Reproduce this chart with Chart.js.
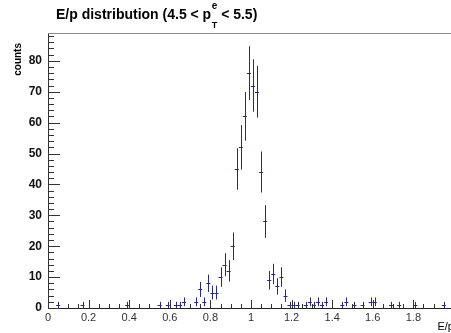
<!DOCTYPE html>
<html>
<head>
<meta charset="utf-8">
<script src="https://cdn.jsdelivr.net/npm/chart.js@4/dist/chart.umd.min.js"></script>
<style>
  html, body { margin: 0; padding: 0; background: #fff; overflow: hidden; }
  #wrap { width: 451px; height: 333px; overflow: hidden; }
</style>
</head>
<body>
<div id="wrap"><canvas id="epChart" width="460" height="333"></canvas></div>
<script>
// E/p histogram, bin width 0.02, only filled bins listed

const binCenters = [
  0.05, 0.17, 0.39, 0.55, 0.59, 0.63, 0.65, 0.67, 0.73, 0.75,
  0.77, 0.79, 0.81, 0.83, 0.85, 0.87, 0.89, 0.91, 0.93, 0.95,
  0.97, 0.99, 1.01, 1.03, 1.05, 1.07, 1.09, 1.11, 1.13, 1.15,
  1.17, 1.19, 1.21, 1.23, 1.27, 1.29, 1.31, 1.33, 1.35, 1.37,
  1.45, 1.47, 1.51, 1.55, 1.59, 1.61, 1.69, 1.73, 1.81, 1.95
];
const counts = [
  1, 1, 1, 1, 1, 1, 1, 2, 2, 6,
  2, 8, 5, 5, 10, 14, 12, 20, 45, 52,
  62, 76, 72, 70, 44, 28, 9, 11, 7, 10,
  4, 1, 1, 1, 1, 2, 1, 2, 1, 2,
  1, 2, 1, 1, 2, 2, 1, 1, 1, 1
];
const xTickValues = [0, 0.2, 0.4, 0.6, 0.8, 1, 1.2, 1.4, 1.6, 1.8, 2];
const yTickValues = [0, 10, 20, 30, 40, 50, 60, 70, 80];

const binHalfWidth = 0.01;
const markColor = '#2a2a7c';
const fontFamily = "'Liberation Sans', Arial, Helvetica, sans-serif";

const rootStyle = {
  id: 'rootStyle',
  afterDraw(chart) {
    const { ctx, chartArea: area, scales: { x, y } } = chart;
    ctx.save();

    // top frame line
    ctx.strokeStyle = '#8a8a8a';
    ctx.lineWidth = 1;
    ctx.beginPath();
    ctx.moveTo(area.left, Math.round(area.top) + 0.5);
    ctx.lineTo(area.right, Math.round(area.top) + 0.5);
    ctx.stroke();

    // inward ticks
    ctx.strokeStyle = '#333';
    ctx.beginPath();
    for (let i = 0; i <= 40; i++) {
      const v = i * 0.05;
      const px = Math.round(x.getPixelForValue(v)) + 0.5;
      const len = i % 4 === 0 ? 8 : 4;
      ctx.moveTo(px, area.bottom);
      ctx.lineTo(px, area.bottom - len);
    }
    for (let v = 0; v <= y.max; v += 2) {
      const py = Math.round(y.getPixelForValue(v)) + 0.5;
      const len = v % 10 === 0 ? 12 : 6;
      ctx.moveTo(area.left, py);
      ctx.lineTo(area.left + len, py);
    }
    ctx.stroke();

    // error bars
    const meta = chart.getDatasetMeta(0);
    ctx.strokeStyle = markColor;
    ctx.lineWidth = 1;
    ctx.beginPath();
    meta.data.forEach((pt, i) => {
      const n = counts[i];
      const err = Math.sqrt(n);
      const cx = Math.round(pt.x) + 0.5;
      const cy = Math.round(pt.y) + 0.5;
      const top = y.getPixelForValue(n + err);
      const bot = y.getPixelForValue(Math.max(0, n - err));
      ctx.moveTo(cx, top);
      ctx.lineTo(cx, bot);
      ctx.moveTo(x.getPixelForValue(binCenters[i] - binHalfWidth), cy);
      ctx.lineTo(x.getPixelForValue(binCenters[i] + binHalfWidth), cy);
    });
    ctx.stroke();

    // title with p_T^e
    ctx.fillStyle = '#000';
    ctx.textBaseline = 'alphabetic';
    ctx.textAlign = 'left';
    ctx.font = 'bold 14px ' + fontFamily;
    const part1 = 'E/p distribution (4.5 < p';
    let tx = 56;
    ctx.fillText(part1, tx, 19);
    tx += ctx.measureText(part1).width + 0.5;
    ctx.font = 'bold 10px ' + fontFamily;
    ctx.fillText('e', tx, 8.5);
    const wE = ctx.measureText('e').width;
    ctx.font = 'bold 9px ' + fontFamily;
    ctx.fillText('T', tx, 28);
    const wT = ctx.measureText('T').width;
    tx += Math.max(wE, wT);
    ctx.font = 'bold 14px ' + fontFamily;
    ctx.fillText(' < 5.5)', tx, 19);

    // y title
    ctx.save();
    ctx.translate(21, area.top + 10);
    ctx.rotate(-Math.PI / 2);
    ctx.font = 'bold 10px ' + fontFamily;
    ctx.textAlign = 'right';
    ctx.fillText('counts', 0, 0);
    ctx.restore();

    // x title
    ctx.font = '11px ' + fontFamily;
    ctx.textAlign = 'right';
    ctx.fillText('E/p', area.right, 330);

    ctx.restore();
  }
};

new Chart(document.getElementById('epChart'), {
  type: 'scatter',
  data: {
    datasets: [{
      label: 'E/p',
      data: binCenters.map((v, i) => ({ x: v, y: counts[i] })),
      pointRadius: 0,
      pointHoverRadius: 0,
      showLine: false
    }]
  },
  options: {
    responsive: false,
    animation: false,
    devicePixelRatio: 1,
    layout: { padding: { top: 33, right: 4, left: 0, bottom: 0 } },
    plugins: { legend: { display: false }, tooltip: { enabled: false } },
    scales: {
      x: {
        type: 'linear',
        min: 0,
        max: 2,
        afterFit(scale) { scale.height = 25; },
        afterBuildTicks(scale) { scale.ticks = xTickValues.map(v => ({ value: v })); },
        grid: { display: false, drawTicks: false },
        border: { display: true, color: '#222', width: 1 },
        ticks: {
          autoSkip: false,
          maxRotation: 0,
          padding: 3,
          color: '#333',
          font: { family: fontFamily, size: 11 },
          callback: v => String(Math.round(v * 10) / 10)
        }
      },
      y: {
        type: 'linear',
        min: 0,
        max: 89,
        afterFit(scale) { scale.width = 48; },
        afterBuildTicks(scale) { scale.ticks = yTickValues.map(v => ({ value: v })); },
        grid: { display: false, drawTicks: false },
        border: { display: true, color: '#333', width: 1 },
        ticks: {
          padding: 6,
          color: '#111',
          font: { family: fontFamily, size: 12, weight: 'bold' }
        }
      }
    }
  },
  plugins: [rootStyle]
});
</script>
</body>
</html>
